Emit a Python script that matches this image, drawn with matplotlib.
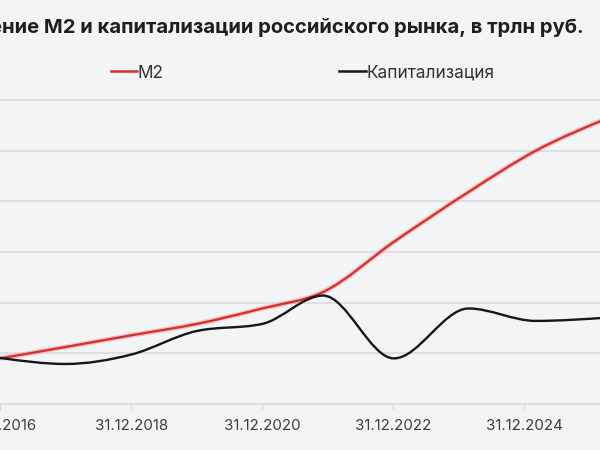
import numpy as np
import matplotlib
matplotlib.use("Agg")
import matplotlib.pyplot as plt
from matplotlib.path import Path
from matplotlib.patches import PathPatch
from matplotlib.lines import Line2D

# ---- data ----
dates = [2016.0, 2017.0, 2018.0, 2019.0, 2020.0, 2020.93, 2022.01, 2023.15, 2024.17, 2025.31]
m2 = [38.0, 42.5, 47.1, 51.6, 57.7, 64.2, 84.0, 103.7, 119.9, 133.2]
cap = [38.2, 35.8, 39.5, 48.8, 51.6, 62.8, 38.0, 57.7, 52.8, 54.2]
tick_pos = [2016, 2018, 2020, 2022, 2024]
tick_labels = ["31.12.2016", "31.12.2018", "31.12.2020", "31.12.2022", "31.12.2024"]
grid_vals = [20, 40, 60, 80, 100, 120, 140]
series_names = ["М2", "Капитализация"]
title = "Изменение М2 и капитализации российского рынка, в трлн руб."
title_visible = "ние М2 и капитализации российского рынка, в трлн руб."

FONT = ["Inter", "DejaVu Sans"]
plt.rcParams["font.family"] = FONT
BG = "#f3f4f6"
GRID = "#d9dadc"
RED = "#d8302f"
BLACK = "#161616"

W, H = 600, 450
fig = plt.figure(figsize=(6, 4.5), dpi=100, facecolor=BG)

def fx(px):
    return px / W

def fy(py):
    return 1 - py / H

# axes: x from px 0..600, y bottom px 404 (value 20), gridline step 20 = 50.67 px
ppu = 50.67 / 20.0
ax_top_px = 95
ax = fig.add_axes([0, fy(404), 1, (404 - ax_top_px) / H])
ax.set_facecolor(BG)
x_at = lambda px: 2016 + (px + 2.4) / 65.8
ax.set_xlim(x_at(0), x_at(600))
ax.set_ylim(20, 20 + (404 - ax_top_px) / ppu)

ax.set_yticks(grid_vals)
ax.yaxis.grid(True, color=GRID, linewidth=1.1)
ax.tick_params(axis="y", length=0, labelleft=False)
ax.set_axisbelow(True)
for s in ["left", "right", "top"]:
    ax.spines[s].set_visible(False)
ax.spines["bottom"].set_color(GRID)
ax.spines["bottom"].set_linewidth(1.1)


def monotone_path(x, y):
    x = np.asarray(x, float)
    y = np.asarray(y, float)
    n = len(x)
    h = np.diff(x)
    s = np.diff(y) / h
    t = np.zeros(n)
    for i in range(1, n - 1):
        h0, h1 = h[i - 1], h[i]
        s0, s1 = s[i - 1], s[i]
        p = (s0 * h1 + s1 * h0) / (h0 + h1)
        t[i] = (np.sign(s0) + np.sign(s1)) * min(abs(s0), abs(s1), 0.5 * abs(p))
    t[0] = (3 * s[0] - t[1]) / 2
    t[-1] = (3 * s[-1] - t[-2]) / 2
    verts = [(x[0], y[0])]
    codes = [Path.MOVETO]
    for i in range(n - 1):
        d = h[i] / 3
        verts += [(x[i] + d, y[i] + d * t[i]), (x[i + 1] - d, y[i + 1] - d * t[i + 1]), (x[i + 1], y[i + 1])]
        codes += [Path.CURVE4] * 3
    return Path(verts, codes)

# red halo + line
ax.add_patch(PathPatch(monotone_path(dates, m2), facecolor="none", edgecolor="#f2a3a3",
                       linewidth=3.6, alpha=0.55, zorder=3))
ax.add_patch(PathPatch(monotone_path(dates, m2), facecolor="none", edgecolor=RED,
                       linewidth=1.7, zorder=4, label=series_names[0]))
ax.add_patch(PathPatch(monotone_path(dates, cap), facecolor="none", edgecolor=BLACK,
                       linewidth=1.7, zorder=4, label=series_names[1]))

ax.set_xticks(tick_pos)
ax.set_xticklabels(tick_labels)
ax.tick_params(axis="x", length=4, width=1, color=GRID, pad=7, labelcolor="#3d3d3d")

fig.canvas.draw()
r = fig.canvas.get_renderer()

def fit_size(s, target_w, weight="normal", base=12):
    t = fig.text(0, 0, s, fontsize=base, fontweight=weight)
    w = t.get_window_extent(r).width
    t.remove()
    return base * target_w / w

# tick labels
tsize = fit_size("31.12.2020", 77, base=11)
for lab in ax.get_xticklabels():
    lab.set_fontsize(tsize)

# title
ttl_size = fit_size(title_visible, 583, weight="bold", base=13)
fig.text(fx(583.6), fy(33), title, ha="right", va="baseline", fontsize=ttl_size,
         fontweight="bold", color="#1e1e1e")

# legend
lsize = fit_size(series_names[1], 127, base=11)
leg_y = fy(71)
fig.add_artist(Line2D([fx(111), fx(137)], [leg_y, leg_y], color=RED, linewidth=1.8))
fig.add_artist(Line2D([fx(338.7), fx(365.5)], [leg_y, leg_y], color=BLACK, linewidth=1.8))
fig.text(fx(137.8), leg_y, series_names[0], ha="left", va="center_baseline", fontsize=lsize, color="#333333")
fig.text(fx(366.6), leg_y, series_names[1], ha="left", va="center_baseline", fontsize=lsize, color="#333333")

fig.savefig("out.png", dpi=100, facecolor=BG)
